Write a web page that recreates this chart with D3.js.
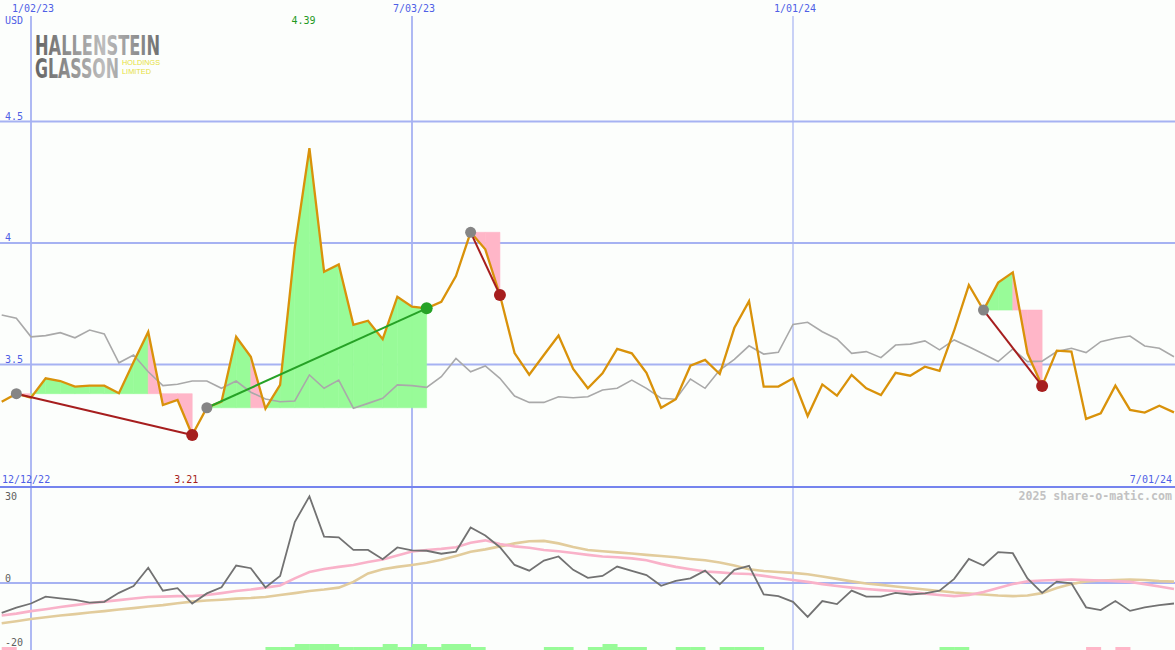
<!DOCTYPE html>
<html>
<head>
<meta charset="utf-8">
<script src="https://cdn.jsdelivr.net/npm/d3@7"></script>
<style>
  html, body { margin: 0; padding: 0; background: #fcfefc; }
  svg { display: block; }
  text { font-family: "DejaVu Sans Mono", "Liberation Mono", monospace; }
</style>
</head>
<body>
<svg id="chart" width="1175" height="650"></svg>
<script>
// ---------- DATA ----------
const startDate = "2022-12-19";          // first weekly close shown
const price = [
  3.347, 3.38, 3.363, 3.443, 3.432, 3.409, 3.413, 3.413, 3.382, 3.51,
  3.634, 3.333, 3.354, 3.21, 3.322, 3.347, 3.614, 3.532, 3.318, 3.416,
  3.98, 4.39, 3.882, 3.912, 3.663, 3.68, 3.604, 3.779, 3.738, 3.731,
  3.758, 3.864, 4.044, 3.974, 3.786, 3.547, 3.458, 3.539, 3.619, 3.482,
  3.402, 3.464, 3.564, 3.546, 3.466, 3.322, 3.357, 3.495, 3.519, 3.461,
  3.651, 3.761, 3.409, 3.409, 3.443, 3.288, 3.418, 3.372, 3.457, 3.402,
  3.374, 3.466, 3.454, 3.491, 3.474, 3.64, 3.827, 3.724, 3.837, 3.879,
  3.546, 3.412, 3.557, 3.553, 3.276, 3.299, 3.413, 3.313, 3.302, 3.33,
  3.303
];
const compare = [
  3.704, 3.69, 3.614, 3.619, 3.631, 3.61, 3.642, 3.626, 3.507, 3.539,
  3.47, 3.413, 3.419, 3.432, 3.432, 3.402, 3.432, 3.386, 3.358, 3.347,
  3.35, 3.457, 3.402, 3.436, 3.32, 3.34, 3.361, 3.416, 3.413, 3.406,
  3.45, 3.525, 3.47, 3.494, 3.443, 3.37, 3.344, 3.344, 3.367, 3.363,
  3.367, 3.395, 3.402, 3.436, 3.402, 3.361, 3.357, 3.44, 3.402, 3.477,
  3.521, 3.577, 3.543, 3.55, 3.665, 3.674, 3.635, 3.605, 3.546, 3.553,
  3.528, 3.58, 3.584, 3.597, 3.56, 3.601, 3.573, 3.543, 3.512, 3.564,
  3.512, 3.514, 3.553, 3.567, 3.549, 3.594, 3.608, 3.617, 3.576, 3.567,
  3.532
];
const momentum = [
  -10.9, -9.0, -7.5, -5.0, -5.6, -6.2, -7.2, -6.9, -3.6, -1.1,
  5.6, -2.8, -1.9, -7.5, -3.8, -1.6, 6.4, 5.4, -1.6, 2.6,
  22.3, 31.7, 17.0, 16.7, 12.1, 12.1, 8.7, 13.0, 11.9, 11.8,
  10.7, 11.5, 20.3, 17.4, 13.1, 6.6, 4.5, 8.2, 9.7, 4.8,
  1.9, 2.6, 6.0, 4.4, 2.9, -1.0, 0.8, 1.7, 4.5, -0.5,
  4.8, 6.3, -4.2, -4.8, -6.9, -12.4, -6.6, -7.7, -2.8, -5.0,
  -5.0, -3.6, -4.2, -3.8, -2.8, 1.5, 8.8, 6.4, 11.3, 10.9,
  1.7, -3.6, 0.5, -0.1, -8.9, -9.9, -6.6, -10.2, -8.9, -8.1,
  -7.5
];
const avgFast = [
  -11.9, -11.2, -10.3, -9.6, -8.8, -8.1, -7.4, -6.8, -6.25, -5.7,
  -5.1, -5.0, -4.8, -4.8, -4.4, -3.7, -2.9, -2.4, -1.7, -0.9,
  1.7, 4.0, 5.1, 5.9, 6.6, 7.7, 8.6, 10.1, 11.5, 12.1,
  12.5, 13.1, 14.7, 15.6, 14.3, 13.4, 12.9, 12.1, 11.6, 11.0,
  10.3, 9.7, 9.4, 9.0, 8.3, 7.0, 5.9, 5.0, 4.2, 3.9,
  3.5, 3.3, 2.6, 1.8, 1.1, 0.4, -0.4, -1.1, -1.7, -2.2,
  -2.6, -2.9, -3.3, -3.9, -4.4, -4.8, -4.4, -3.3, -1.8, -0.4,
  0.6, 0.9, 1.1, 1.3, 1.1, 0.9, 0.7, 0.4, -0.4, -1.3,
  -2.2
];
const avgSlow = [
  -14.7, -14.0, -13.2, -12.5, -11.9, -11.4, -10.8, -10.3, -9.7, -9.2,
  -8.6, -8.1, -7.4, -6.8, -6.4, -6.1, -5.7, -5.5, -5.1, -4.4,
  -3.7, -2.9, -2.4, -1.7, 0.4, 3.5, 5.0, 5.9, 6.6, 7.4,
  8.5, 9.9, 11.4, 12.3, 13.4, 14.5, 15.3, 15.4, 14.5, 13.2,
  12.1, 11.6, 11.2, 10.8, 10.3, 9.9, 9.4, 8.8, 8.3, 7.5,
  6.4, 5.0, 4.4, 4.0, 3.7, 3.2, 2.4, 1.5, 0.6, -0.2,
  -0.7, -1.3, -1.8, -2.4, -2.9, -3.5, -3.9, -4.2, -4.6, -4.8,
  -4.6, -3.7, -1.8, -0.4, 0.6, 0.9, 1.1, 1.3, 1.1, 0.7,
  0.5
];
// weekly signal strip: 1 = green, 2 = strong green, -1 = pink
const signal = [
  -1, 0, 0, 0, 0, 0, 0, 0, 0, 0,
  0, 0, 0, 0, 0, 0, 0, 0, 1, 1,
  2, 2, 2, 1, 1, 1, 2, 1, 2, 1,
  2, 2, 1, 0, 0, 0, 0, 1, 1, 0,
  1, 2, 1, 1, 0, 0, 1, 1, 0, 1,
  1, 1, 0, 0, 0, 0, 0, 0, 0, 0,
  0, 0, 0, 0, 1, 1, 0, 0, 0, 0,
  0, 0, 0, 0, -1, 0, -1, 0, 0, 0,
  0
];
// trades (week indices)
const tradeEntry = [1, 14, 32, 67];
const tradeExit  = [13, 29, 34, 71];

const priceTicks = [3.5, 4, 4.5];
const priceTickLabels = ["3.5", "4", "4.5"];
const lowerTicks = [30, 0, -20];
const lowerTickLabels = ["30", "0", "-20"];
const dateTicks = ["2023-01-02", "2023-07-03", "2024-01-01"];
const dateTickLabels = ["1/02/23", "7/03/23", "1/01/24"];
const firstDateLabel = "12/12/22";
const lastDateLabel = "7/01/24";
const currencyLabel = "USD";

// ---------- SETUP ----------
const W = 1175, H = 650;
const svg = d3.select("#chart");
const parse = d3.utcParse("%Y-%m-%d");
const t0 = parse(startDate);
const dates = price.map((_, i) => d3.utcDay.offset(t0, 7 * i));

const x = d3.scaleUtc()
  .domain([parse("2023-01-02"), parse("2024-07-01")])
  .range([31, 1174]);
const y = d3.scaleLinear().domain([3.5, 4.5]).range([364.5, 121.5]);
const y2 = d3.scaleLinear().domain([0, 30]).range([583, 501]);
const sigY = d3.scaleLinear().domain([0, 2]).range([650, 644]);

const SEP = 487;
const gridColor = "#a6b2f2";
const labelBlue = "#4f5fe6";

svg.append("rect").attr("width", W).attr("height", H).attr("fill", "#fcfefc");

const defs = svg.append("defs");
defs.append("clipPath").attr("id", "clipMain")
  .append("rect").attr("x", 0).attr("y", 0).attr("width", W).attr("height", SEP);
defs.append("clipPath").attr("id", "clipLow")
  .append("rect").attr("x", 0).attr("y", SEP + 1).attr("width", W).attr("height", H - SEP - 1);
const grad = defs.append("linearGradient").attr("id", "logoGrad")
  .attr("gradientUnits", "userSpaceOnUse").attr("x1", 35).attr("x2", 160).attr("y1", 0).attr("y2", 0);
grad.append("stop").attr("offset", 0).attr("stop-color", "#646464");
grad.append("stop").attr("offset", 0.55).attr("stop-color", "#bdbdbd");
grad.append("stop").attr("offset", 1).attr("stop-color", "#707070");

// ---------- GRID ----------
const grid = svg.append("g");
grid.selectAll("line.h").data(priceTicks).join("line")
  .attr("x1", 0).attr("x2", W)
  .attr("y1", d => y(d)).attr("y2", d => y(d))
  .attr("stroke", gridColor).attr("stroke-width", 2);
grid.append("line")
  .attr("x1", 0).attr("x2", W).attr("y1", y2(0)).attr("y2", y2(0))
  .attr("stroke", gridColor).attr("stroke-width", 2);
grid.selectAll("line.v").data(dateTicks).join("line")
  .attr("x1", d => x(parse(d))).attr("x2", d => x(parse(d)))
  .attr("y1", 16).attr("y2", H)
  .attr("stroke", gridColor).attr("stroke-width", (d, i) => i === 2 ? 1.2 : 1.8);
grid.append("line")
  .attr("x1", 0).attr("x2", W).attr("y1", SEP).attr("y2", SEP)
  .attr("stroke", "#7584ee").attr("stroke-width", 2.2);

// ---------- LOGO ----------
const logo = svg.append("text")
  .style("font-family", "'Liberation Sans Narrow', 'DejaVu Sans Condensed', sans-serif");
logo.append("tspan").attr("x", 35).attr("y", 55)
  .attr("textLength", 125).attr("lengthAdjust", "spacingAndGlyphs")
  .style("font-weight", "bold").style("font-size", "27px")
  .attr("fill", "url(#logoGrad)").text("HALLENSTEIN");
logo.append("tspan").attr("x", 35).attr("y", 78)
  .attr("textLength", 84).attr("lengthAdjust", "spacingAndGlyphs")
  .style("font-weight", "bold").style("font-size", "27px")
  .attr("fill", "url(#logoGrad)").text("GLASSON");
logo.append("tspan").attr("x", 122).attr("y", 65)
  .attr("textLength", 38).attr("lengthAdjust", "spacingAndGlyphs")
  .style("font-family", "'Liberation Sans', sans-serif").style("font-size", "6.6px")
  .attr("fill", "#e6de3a").text("HOLDINGS");
logo.append("tspan").attr("x", 122).attr("y", 73.5)
  .attr("textLength", 29).attr("lengthAdjust", "spacingAndGlyphs")
  .style("font-family", "'Liberation Sans', sans-serif").style("font-size", "6.6px")
  .attr("fill", "#e6de3a").text("LIMITED");

// ---------- MAIN PANEL ----------
const main = svg.append("g").attr("clip-path", "url(#clipMain)");
const pt = i => [x(dates[i]), y(price[i])];

// trade fills
tradeEntry.forEach((e, k) => {
  const xEnd = tradeExit[k];
  const base = y(price[e]);
  for (let i = e + 1; i <= xEnd; i++) {
    const [x0, y0] = pt(i - 1), [x1, y1] = pt(i);
    const col = price[i] >= price[e] ? "#98fb98" : "#ffb6c8";
    main.append("path")
      .attr("d", `M${x0},${y0}L${x1},${y1}L${x1},${base}L${x0},${base}Z`)
      .attr("fill", col).attr("stroke", col).attr("stroke-width", 0.6);
  }
});

const line = d3.line().x((d, i) => x(dates[i])).y(d => y(d));
main.append("path").datum(compare).attr("d", line)
  .attr("fill", "none").attr("stroke", "#a9a9a9").attr("stroke-width", 1.6);
main.append("path").datum(price).attr("d", line)
  .attr("fill", "none").attr("stroke", "#d9920a").attr("stroke-width", 2.3)
  .attr("stroke-linejoin", "miter");

// trade connectors and dots
tradeEntry.forEach((e, k) => {
  const xi = tradeExit[k];
  const win = price[xi] > price[e];
  const col = win ? "#26a226" : "#a61e1e";
  main.append("line")
    .attr("x1", pt(e)[0]).attr("y1", pt(e)[1]).attr("x2", pt(xi)[0]).attr("y2", pt(xi)[1])
    .attr("stroke", col).attr("stroke-width", 2);
  main.append("circle").attr("cx", pt(e)[0]).attr("cy", pt(e)[1]).attr("r", 5.5).attr("fill", "#858585");
  main.append("circle").attr("cx", pt(xi)[0]).attr("cy", pt(xi)[1]).attr("r", 6).attr("fill", col);
});

// ---------- LOWER PANEL ----------
const low = svg.append("g").attr("clip-path", "url(#clipLow)");
low.selectAll("rect.sig").data(signal).join("rect")
  .attr("x", (d, i) => x(dates[i]))
  .attr("width", (d, i) => x(d3.utcDay.offset(dates[i], 7)) - x(dates[i]) + 0.4)
  .attr("y", d => sigY(Math.abs(d)))
  .attr("height", d => H - sigY(Math.abs(d)))
  .attr("fill", d => d < 0 ? "#ffb6c8" : "#98fb98")
  .attr("display", d => d === 0 ? "none" : null);

const line2 = d3.line().x((d, i) => x(dates[i])).y(d => y2(d));
low.append("path").datum(avgSlow).attr("d", line2)
  .attr("fill", "none").attr("stroke", "#e2cc9c").attr("stroke-width", 2.6);
low.append("path").datum(avgFast).attr("d", line2)
  .attr("fill", "none").attr("stroke", "#f9b2c9").attr("stroke-width", 2.6);
low.append("path").datum(momentum).attr("d", line2)
  .attr("fill", "none").attr("stroke", "#727272").attr("stroke-width", 1.8);

// ---------- TEXT ----------
const txt = svg.append("g").style("font-size", "10px");
txt.selectAll("text.dt").data(dateTicks).join("text")
  .attr("x", d => x(parse(d)) + 2).attr("y", 12)
  .attr("text-anchor", "middle").attr("fill", labelBlue)
  .text((d, i) => dateTickLabels[i]);
txt.append("text").attr("x", 5).attr("y", 24).attr("fill", labelBlue).text(currencyLabel);
txt.selectAll("text.py").data(priceTicks).join("text")
  .attr("x", 5).attr("y", d => y(d) - 2).attr("fill", labelBlue)
  .text((d, i) => priceTickLabels[i]);
txt.append("text").attr("x", 2).attr("y", 483).attr("fill", labelBlue).text(firstDateLabel);
txt.append("text").attr("x", 1172).attr("y", 483).attr("text-anchor", "end")
  .attr("fill", labelBlue).text(lastDateLabel);

// max / min annotations
const iMax = d3.maxIndex(price), iMin = d3.minIndex(price);
txt.append("text").attr("x", x(dates[iMax]) - 6).attr("y", 24)
  .attr("text-anchor", "middle").attr("fill", "#1f9a1f").text(d3.format(".2f")(price[iMax]));
txt.append("text").attr("x", x(dates[iMin]) - 6).attr("y", 483)
  .attr("text-anchor", "middle").attr("fill", "#a61e1e").text(d3.format(".2f")(price[iMin]));

// lower-panel ticks
txt.selectAll("text.ly").data(lowerTicks).join("text")
  .attr("x", 5).attr("y", d => d < 0 ? y2(d) + 8 : y2(d) - 1)
  .attr("fill", "#5e5e5e")
  .text((d, i) => lowerTickLabels[i]);

svg.append("text").attr("x", 1172).attr("y", 500).attr("text-anchor", "end")
  .style("font-size", "11.6px").style("font-weight", "bold")
  .attr("fill", "#c2c2c2").text("2025 share-o-matic.com");
</script>
</body>
</html>
